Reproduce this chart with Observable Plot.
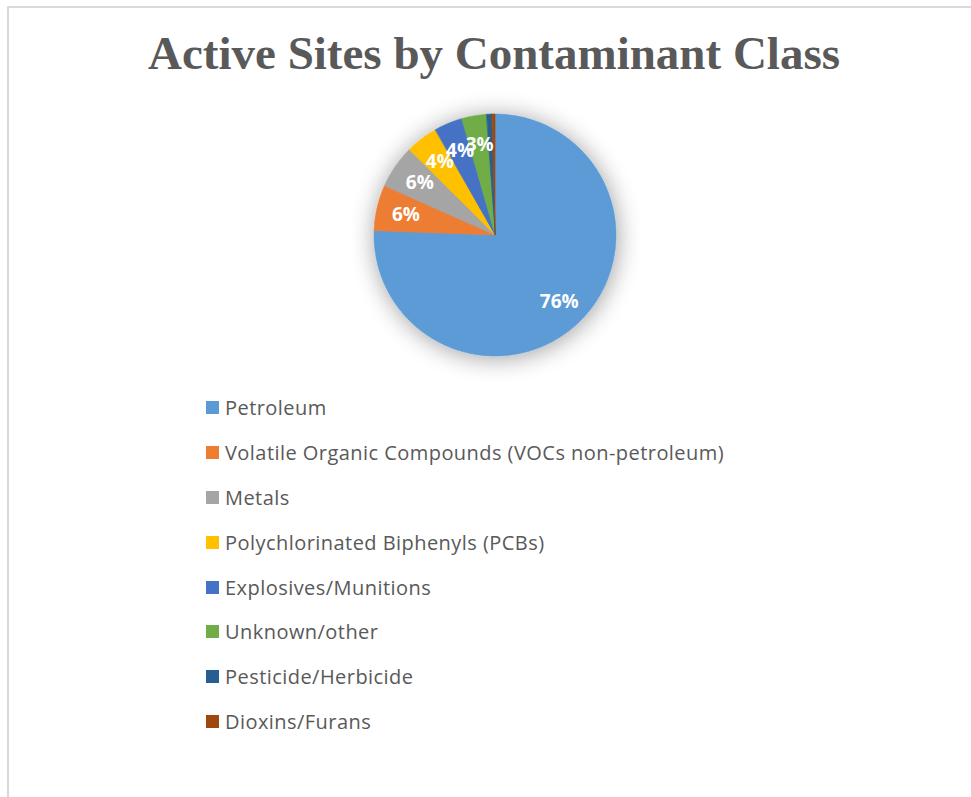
<!DOCTYPE html>
<html><head><meta charset="utf-8">
<script src="https://cdn.jsdelivr.net/npm/d3@7"></script>
<script src="https://cdn.jsdelivr.net/npm/@observablehq/plot@0.6"></script>
<style>
body{margin:0;background:#fff;width:971px;height:797px;overflow:hidden;position:relative;font-family:"Open Sans",sans-serif;}
#frame{position:absolute;left:7px;top:6px;width:990px;height:810px;border-left:2px solid #d9d9d9;border-top:2px solid #d9d9d9;}
#title{position:absolute;left:0;width:988px;top:23px;text-align:center;font-family:"Liberation Serif",serif;font-weight:bold;font-size:47px;color:#595959;line-height:60px;}
#chart{position:absolute;left:333.5px;top:73.5px;}
#legend{position:absolute;left:206px;top:385.6px;}
.row{display:flex;align-items:center;height:44.8px;font-size:20px;letter-spacing:0.45px;color:#595959;white-space:nowrap;}
.sw{width:13px;height:13px;margin-right:6px;flex:none;}
</style>
</head><body>
<div id="frame"></div>
<div id="title">Active Sites by Contaminant Class</div>
<div id="chart"></div>
<div id="legend"></div>
<script>
const categories = ["Petroleum","Volatile Organic Compounds (VOCs non-petroleum)","Metals","Polychlorinated Biphenyls (PCBs)","Explosives/Munitions","Unknown/other","Pesticide/Herbicide","Dioxins/Furans"];
const shares = [75.6, 6.1, 5.8, 4.3, 3.8, 3.3, 0.7, 0.4];
const colors = ["#5b9bd5","#ed7d31","#a5a5a5","#ffc000","#4472c4","#70ad47","#255e91","#9e480e"];

const total = d3.sum(shares);
const arcPts = [];
const labels = [];
let cum = 0;
categories.forEach((cat, i) => {
  const a0 = cum / total * 2 * Math.PI;
  cum += shares[i];
  const a1 = cum / total * 2 * Math.PI;
  const n = Math.max(2, Math.ceil((a1 - a0) / (Math.PI / 360)));
  for (let k = 0; k <= n; k++) {
    const a = a0 + (a1 - a0) * k / n;
    arcPts.push({cat, x: Math.sin(a), y: Math.cos(a)});
  }
  if (shares[i] / total >= 0.02) {
    const m = (a0 + a1) / 2;
    labels.push({cat, x: 0.76 * Math.sin(m), y: 0.76 * Math.cos(m), label: Math.round(shares[i] / total * 100) + "%"});
  }
});

const R = 121, pad = 45;
const plot = Plot.plot({
  width: 2 * R + 2 * pad,
  height: 2 * R + 2 * pad,
  margin: pad,
  style: {fontFamily: "Open Sans", overflow: "visible", background: "transparent"},
  x: {domain: [-1, 1], axis: null},
  y: {domain: [-1, 1], axis: null},
  color: {domain: categories, range: colors},
  marks: [
    Plot.area(arcPts, {x1: "x", y1: "y", x2: () => 0, y2: () => 0, z: "cat", fill: "cat", stroke: "cat", strokeWidth: 0.6}),
    Plot.text(labels, {x: "x", y: "y", text: "label", fill: "white", fontWeight: "bold", fontSize: 19})
  ]
});
const ns = "http://www.w3.org/2000/svg";
const defs = document.createElementNS(ns, "defs");
defs.innerHTML = '<filter id="sh" x="-50%" y="-50%" width="200%" height="200%"><feGaussianBlur in="SourceAlpha" stdDeviation="12"/><feOffset dx="1" dy="2" result="b"/><feComponentTransfer><feFuncA type="linear" slope="0.38"/></feComponentTransfer><feMerge><feMergeNode/><feMergeNode in="SourceGraphic"/></feMerge></filter>';
plot.insertBefore(defs, plot.firstChild);
const areaG = plot.querySelector('g[aria-label="area"]');
if (areaG) areaG.setAttribute("filter", "url(#sh)");
document.getElementById("chart").style.left = (494.5 - R - pad) + "px";
document.getElementById("chart").style.top = (234.5 - R - pad) + "px";
document.getElementById("chart").appendChild(plot);

const color = plot.scale("color");
const leg = document.getElementById("legend");
categories.forEach(c => {
  const row = document.createElement("div");
  row.className = "row";
  const sw = document.createElement("span");
  sw.className = "sw";
  sw.style.background = colors[color.domain.indexOf(c)];
  const t = document.createElement("span");
  t.textContent = c;
  row.appendChild(sw); row.appendChild(t);
  leg.appendChild(row);
});
</script>
</body></html>
